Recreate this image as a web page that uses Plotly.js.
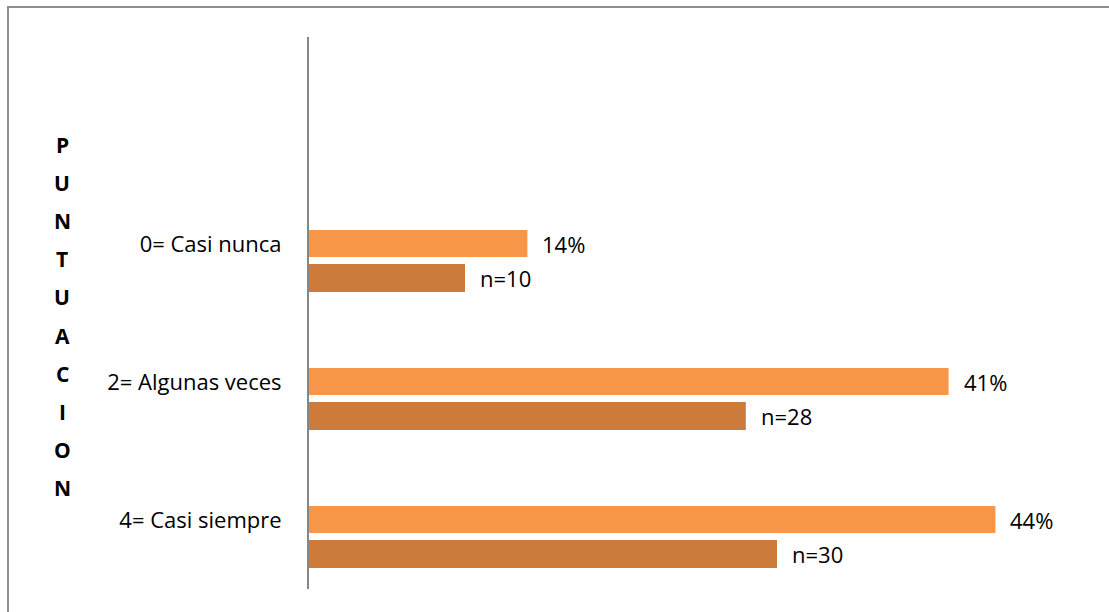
<!DOCTYPE html>
<html>
<head>
<meta charset="utf-8">
<script src="https://cdn.plot.ly/plotly-3.0.1.min.js"></script>
<style>
  html, body { margin: 0; padding: 0; background: #fff; }
  #wrap { position: relative; width: 1109px; height: 612px; overflow: hidden; }
  #chart { position: absolute; left: 0; top: 0; width: 1109px; height: 612px; }
  #frame { position: absolute; left: 7px; top: 6px; width: 1200px; height: 700px;
           border-left: 2px solid #8e8e8e; border-top: 2px solid #8e8e8e; pointer-events: none; }
</style>
</head>
<body>
<div id="wrap">
  <div id="chart"></div>
  <div id="frame"></div>
</div>
<script>
// ---- data ----
const categories = ["0= Casi nunca", "2= Algunas veces", "4= Casi siempre"];
const percentValues = [14, 41, 44];
const percentLabels = ["14%", "41%", "44%"];
const countValues = [10, 28, 30];
const countLabels = ["n=10", "n=28", "n=30"];
const axisTitle = "PUNTUACION";

// ---- styles ----
const FONT = "Open Sans, Liberation Sans, sans-serif";
const lightOrange = "#F79646";
const darkOrange = "#CD7B3A";

const traces = [
  {
    type: "bar", orientation: "h", name: "Porcentaje",
    y: categories, x: percentValues,
    marker: { color: lightOrange, line: { width: 0 } },
    offset: -0.101, width: 0.196,
    hoverinfo: "none"
  },
  {
    type: "bar", orientation: "h", name: "n",
    y: categories, x: countValues,
    marker: { color: darkOrange, line: { width: 0 } },
    offset: 0.145, width: 0.203,
    hoverinfo: "none"
  }
];

const annotations = [];
categories.forEach((c, i) => {
  annotations.push({
    x: percentValues[i], y: c, xref: "x", yref: "y",
    text: percentLabels[i], showarrow: false,
    xanchor: "left", yanchor: "middle", xshift: 13, yshift: 0,
    font: { family: FONT, size: 22, color: "#000" }
  });
  annotations.push({
    x: countValues[i], y: c, xref: "x", yref: "y",
    text: countLabels[i], showarrow: false,
    xanchor: "left", yanchor: "middle", xshift: 13, yshift: -34,
    font: { family: FONT, size: 22, color: "#000" }
  });
});

// vertical stacked axis title
const letters = axisTitle.split("");
const plotLeft = 309, plotRight = 1089, plotTop = 37, plotBottom = 589;
const titleX = (62 - plotLeft) / (plotRight - plotLeft);
const firstLetterY = 145, letterStep = 38.1;
letters.forEach((ch, i) => {
  const py = firstLetterY + i * letterStep;
  annotations.push({
    xref: "paper", yref: "paper",
    x: titleX, y: (plotBottom - py) / (plotBottom - plotTop),
    text: "<b>" + ch + "</b>", showarrow: false,
    xanchor: "center", yanchor: "middle",
    font: { family: FONT, size: 21, color: "#000" }
  });
});

const layout = {
  width: 1109, height: 612,
  margin: { l: plotLeft, r: 1109 - plotRight, t: plotTop, b: 612 - plotBottom, pad: 0 },
  paper_bgcolor: "#fff", plot_bgcolor: "#fff",
  showlegend: false,
  barmode: "overlay",
  xaxis: {
    range: [0, 50], autorange: false,
    showgrid: false, zeroline: false, showline: false,
    showticklabels: false, ticks: ""
  },
  yaxis: {
    type: "category",
    categoryorder: "array", categoryarray: categories,
    range: [2.5, -1.5], autorange: false,
    showgrid: false, zeroline: false,
    showline: true, linecolor: "#868686", linewidth: 2,
    ticks: "", ticklabelstandoff: 21,
    tickfont: { family: FONT, size: 22, color: "#000" }
  },
  annotations: annotations
};

Plotly.newPlot("chart", traces, layout, { displayModeBar: false, staticPlot: true });
</script>
</body>
</html>
